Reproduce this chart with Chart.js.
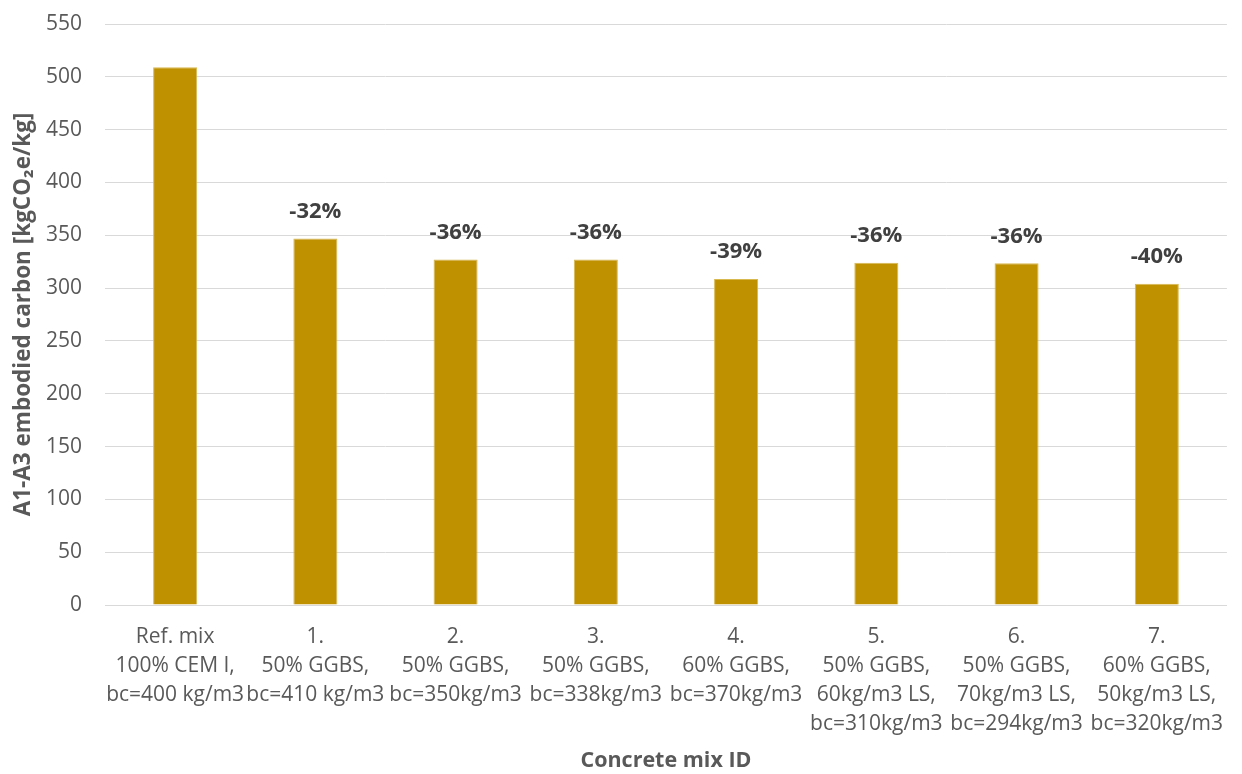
<!DOCTYPE html>
<html>
<head>
<meta charset="utf-8">
<script src="https://cdn.jsdelivr.net/npm/chart.js@4.4.1/dist/chart.umd.min.js"></script>
<style>
  html, body { margin: 0; padding: 0; background: #ffffff; }
  #wrap { width: 1242px; height: 774px; position: relative; }
</style>
</head>
<body>
<div id="wrap"><canvas id="chart" width="1242" height="774"></canvas></div>
<script>
// Concrete mix categories (multi-line axis labels)
const mixLabels = [
  ["Ref. mix", "100% CEM I,", "bc=400 kg/m3"],
  ["1.", "50% GGBS,", "bc=410 kg/m3"],
  ["2.", "50% GGBS,", "bc=350kg/m3"],
  ["3.", "50% GGBS,", "bc=338kg/m3"],
  ["4.", "60% GGBS,", "bc=370kg/m3"],
  ["5.", "50% GGBS,", "60kg/m3 LS,", "bc=310kg/m3"],
  ["6.", "50% GGBS,", "70kg/m3 LS,", "bc=294kg/m3"],
  ["7.", "60% GGBS,", "50kg/m3 LS,", "bc=320kg/m3"]
];

// A1-A3 embodied carbon per mix
const embodiedCarbon = [509, 347, 327, 327, 308.5, 324, 323.5, 304];

// Y axis range
const yMin = 0;
const yMax = 550;
const yStep = 50;

const FONT = "'Open Sans', 'Noto Sans', sans-serif";
const TEXT_GREY = "#595959";

// Reduction labels relative to the reference mix, drawn above each bar
const reductionLabels = {
  id: "reductionLabels",
  afterDatasetsDraw(chart) {
    const ctx = chart.ctx;
    const meta = chart.getDatasetMeta(0);
    const data = chart.data.datasets[0].data;
    const ref = data[0];
    ctx.save();
    ctx.font = "bold 22px " + FONT;
    ctx.fillStyle = "#404040";
    ctx.textAlign = "center";
    ctx.textBaseline = "middle";
    meta.data.forEach((bar, i) => {
      if (i === 0) return;
      const pct = Math.round((data[i] / ref - 1) * 100);
      ctx.fillText(pct + "%", bar.x, bar.y - 27);
    });
    ctx.restore();
  }
};

new Chart(document.getElementById("chart"), {
  type: "bar",
  data: {
    labels: mixLabels,
    datasets: [{
      data: embodiedCarbon,
      backgroundColor: "#BF9000",
      borderColor: "#D8B950",
      borderWidth: 1,
      categoryPercentage: 1,
      barPercentage: 0.314
    }]
  },
  options: {
    responsive: false,
    animation: false,
    devicePixelRatio: 1,
    layout: { padding: { top: 24, right: 15, left: 0, bottom: 0 } },
    plugins: {
      legend: { display: false },
      tooltip: { enabled: false }
    },
    scales: {
      x: {
        grid: { display: false, drawTicks: false },
        border: { display: true, color: "#D9D9D9", width: 1 },
        ticks: {
          color: TEXT_GREY,
          font: { family: FONT, size: 21, lineHeight: "29px" },
          padding: 18,
          maxRotation: 0,
          autoSkip: false
        },
        title: {
          display: true,
          text: "Concrete mix ID",
          color: TEXT_GREY,
          font: { family: FONT, size: 21.5, weight: "bold" },
          padding: { top: 0, bottom: 0 }
        },
        afterFit(scale) { scale.height = 774 - 605; }
      },
      y: {
        min: yMin,
        max: yMax,
        grid: {
          color: "#D9D9D9",
          lineWidth: 1,
          drawTicks: true,
          tickLength: 20,
          tickColor: "rgba(0,0,0,0)"
        },
        border: { display: false },
        ticks: {
          stepSize: yStep,
          color: TEXT_GREY,
          font: { family: FONT, size: 21 },
          padding: 3
        },
        title: {
          display: true,
          text: "A1-A3 embodied carbon [kgCO\u2082e/kg]",
          color: TEXT_GREY,
          font: { family: FONT, size: 22.5, weight: "bold" },
          padding: { top: 10, bottom: 0 }
        },
        afterFit(scale) { scale.width = 105; }
      }
    }
  },
  plugins: [reductionLabels]
});
</script>
</body>
</html>
